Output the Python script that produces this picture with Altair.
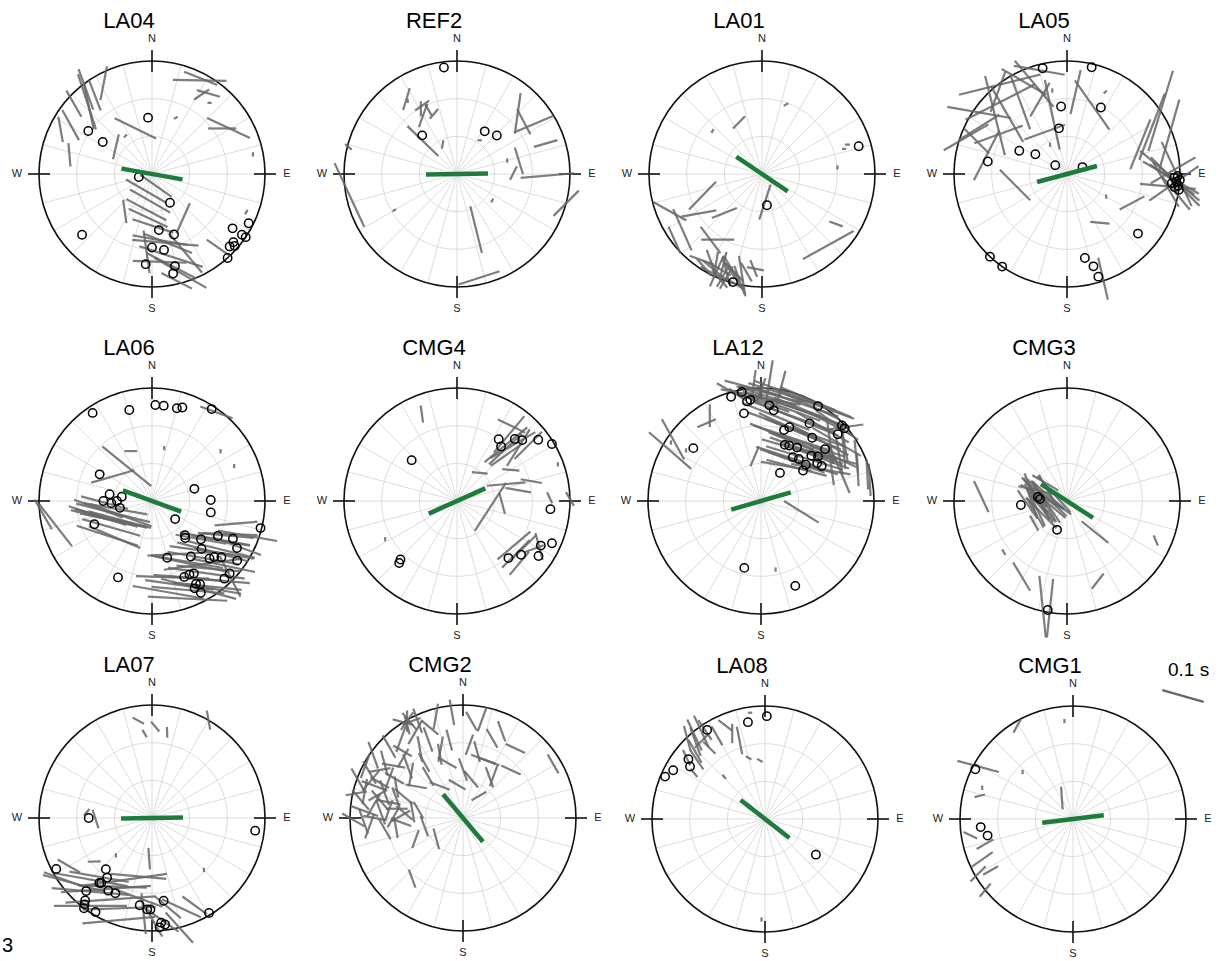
import math
import pandas as pd
import altair as alt

# ---------------- data: (back-azimuth deg, radial position as fraction of net radius, fast azimuth deg, delay s)
LA04_BARS = [(318,.86,162,.135),(332,.91,11,.08),(324,.86,159,.075),(301,.84,151,.08),(283,.75,175,.055),
             (317,.82,168,.11),(322,.95,160,.10),(312,.93,150,.07),(296,.90,170,.06),(307,.40,13,.06),
             (340,.43,116,.107),(27,.93,91,.125),(27,.95,112,.083),(35,.87,106,.056),(32,.83,56,.042),
             (59,.79,115,.11),(57,.74,90,.066),(199,.16,120,.108),(184,.24,120,.108),(189,.32,118,.105),
             (185,.39,115,.10),(179,.46,108,.10),(169,.62,95,.155),(167,.75,108,.155),(167,.63,112,.12),
             (168,.83,117,.13),(167,.97,117,.08),(175,.78,92,.125),(184,.69,172,.10),(216,.41,172,.055),
             (145,.48,24,.077),(138,.88,125,.067),(157,.76,140,.12),(164,.91,120,.14),(162,.11,125,.09),
             (173,.59,100,.13),(23,.54,60,.01),(79,.91,0,.01),(325,.41,45,.01),(39,.81,90,.01),(112,.90,30,.012)]
LA04_NULLS = [(356,.50),(304,.68),(303,.52),(257,.12),(148,.30),(173,.50),(160,.57),(180,.65),(171,.68),
              (184,.80),(166,.84),(168,.90),(229,.82),(124,.86),(117,.96),(124,.96),(124,1.0),(130,.94),
              (133,.94),(131,.97),(138,1.0)]

REF2_BARS = [(326,.80,17,.053),(333,.68,55,.04),(330,.60,20,.058),(336,.62,150,.03),(331,.66,0,.035),
             (339,.57,40,.03),(314,.42,134,.10),(334,.29,10,.02),(45,.76,8,.095),(57,.81,67,.10),
             (52,.75,152,.066),(71,.83,74,.057),(78,.56,163,.065),(91,.80,85,.125),(89,.50,27,.035),
             (105,1.0,45,.083),(259,.97,155,.163),(284,.99,130,.02),(161,.52,166,.112),(168,.94,72,.10),
             (240,.64,60,.01),(127,.39,30,.01),(75,.46,0,.01),(34,.36,90,.01),(326,.78,0,.01)]
REF2_NULLS = [(353,.95),(318,.46),(33,.45),(46,.49)]

LA01_BARS = [(336,.50,45,.04),(174,.25,18,.086),(124,.79,110,.033),(137,.86,61,.135),(250,.56,44,.09),
             (248,.88,119,.088),(235,.86,156,.105),(238,.66,80,.083),(224,.48,68,.063),(233,.97,156,.068),
             (214,.70,90,.077),(218,.74,143,.077),(206,.95,130,.072),(205,.95,24,.077),(196,.93,146,.084),
             (203,.88,14,.065),(191,.92,171,.095),(185,.84,158,.042),(184,.84,101,.04),(208,.98,117,.05),
             (196,.90,135,.06),(200,.92,165,.07),(194,1.0,120,.05),(210,.90,160,.06),(199,.97,30,.06),
             (202,1.0,140,.055),(198,.88,150,.07),(204,.92,120,.06),(192,.96,160,.07),(207,.90,10,.06),
             (212,.97,140,.05),(189,.88,150,.05),(201,.98,30,.05),(215,.93,110,.06),
             (19,.65,60,.012),(311,.58,30,.01),(85,.67,0,.01),(71,.80,90,.012),(73,.76,90,.01)]
LA01_NULLS = [(74,.89),(171,.28),(195,.99)]

LA05_BARS = [(323,.99,76,.195),(317,.87,63,.18),(309,.82,166,.19),(327,.76,160,.135),(298,.88,58,.11),
             (283,.73,27,.13),(346,.54,168,.165),(332,.42,70,.10),(6,.73,13,.105),(20,.65,145,.14),
             (258,.47,135,.10),(56,1.0,17,.195),(61,.86,21,.165),(69,.97,16,.17),(68,.70,22,.125),
             (91,.91,130,.18),(93,.93,124,.125),(95,.95,55,.14),(90,.97,155,.165),(97,.90,95,.13),
             (100,.98,140,.10),(161,.98,167,.10),(114,.63,62,.065),(146,.52,95,.045),(335,.90,120,.12),
             (305,.95,100,.15),(290,.85,135,.08),(340,.70,30,.09),(92,.92,120,.15),(94,.96,135,.16),
             (88,.94,60,.12),(96,.88,150,.12),(315,.75,150,.15),(300,.70,70,.12),(340,.85,140,.14),
             (320,.95,20,.10),(290,.95,60,.12),(345,.95,100,.12),
             (350,.75,0,.01),(25,.80,45,.01),(330,.30,0,.01),(120,.40,0,.01)]
LA05_NULLS = [(347,.96),(13,.97),(355,.60),(27,.66),(350,.41),(279,.71),(296,.47),(302,.33),(307,.13),
              (66,.15),(130,.82),(223,1.0),(168,.76),(164,.85),(163,.95),(215,1.0),(92,.95),(94,.97),
              (96,.99),(93,1.0),(97,.96),(95,.93),(91,.98),(98,1.0)]

LA06_BARS = [(253,.36,104,.177),(243,.38,102,.16),(237,.43,106,.14),(226,.46,113,.13),(268,.42,105,.113),
             (302,.41,74,.104),(324,.38,129,.147),(256,.88,142,.124),(263,.97,150,.08),(337,.48,90,.03),
             (248,.40,104,.17),(258,.33,100,.15),(232,.50,108,.15),(262,.48,110,.12),(245,.30,110,.15),
             (250,.45,104,.16),(240,.33,105,.15),(255,.50,108,.14),
             (105,.77,85,.10),(113,.75,92,.128),(121,.65,100,.165),(150,.54,87,.163),(141,.72,82,.185),
             (144,.86,95,.19),(170,.82,100,.167),(160,.92,93,.185),(126,.79,100,.14),(140,.78,95,.15),
             (134,.96,153,.107),(36,.97,110,.08),(130,.70,105,.17),(135,.62,98,.15),(148,.66,102,.18),
             (155,.75,95,.16),(118,.85,110,.12),(110,.90,100,.14),(145,.95,100,.13),(165,.70,92,.17),
             (128,.55,100,.12),(152,.88,105,.18),(138,.68,100,.17),(143,.80,98,.18),(147,.90,96,.16),
             (132,.85,102,.15),(125,.75,104,.16),(120,.70,100,.14),(158,.85,95,.17),(162,.78,98,.16),
             (150,.62,100,.17),(115,.72,95,.13),(13,.48,0,.01),(54,.75,0,.01),(67,.79,0,.01)]
LA06_NULLS = [(326,.94),(346,.83),(2,.85),(7,.85),(15,.85),(18,.87),(33,.97),(297,.52),(279,.38),(270,.43),
              (267,.36),(270,.31),(278,.27),(258,.29),(248,.55),(74,.39),(89,.52),(101,.53),(128,.26),
              (136,.42),(138,.44),(128,.55),(118,.66),(115,.79),(119,.86),(104,.99),(134,.61),(145,.60),
              (135,.72),(132,.74),(129,.79),(165,.52),(125,.92),(157,.73),(153,.73),(150,.74),(152,.83),
              (154,.86),(150,.85),(152,.92),(137,.94),(133,.94),(204,.74)]

CMG4_BARS = [(41,.66,51,.128),(43,.63,47,.105),(36,.82,116,.07),(45,.70,60,.12),(49,.72,32,.10),
             (52,.80,45,.09),(38,.75,40,.11),(47,.60,55,.09),(338,.83,172,.04),(39,.32,95,.037),
             (100,.30,33,.133),(71,.46,85,.09),(93,.40,165,.05),(80,.55,100,.06),(88,.82,155,.028),
             (89,1.0,150,.037),(128,.64,50,.10),(132,.70,45,.09),(135,.78,40,.07),(122,.80,70,.05),
             (119,.83,165,.065),(125,.72,45,.08),(60,.55,95,.04),(75,.68,100,.05),(242,.72,0,.01),(70,.95,0,.01)]
CMG4_NULLS = [(312,.54),(224,.72),(223,.75),(34,.66),(39,.62),(43,.75),(47,.79),(53,.90),(59,.98),
              (95,.83),(114,.92),(118,.84),(130,.74),(138,.68),(124,.87)]

LA12_BARS = [(356,1.0,105,.137),(3,.93,108,.147),(11,.97,107,.163),(21,.93,109,.195),(27,.88,110,.18),
             (29,1.0,113,.18),(10,.76,112,.167),(36,.73,109,.17),(37,.61,112,.17),(45,.54,107,.185),
             (47,.43,105,.145),(42,.92,118,.114),(49,1.0,82,.08),(4,1.06,9,.10),(356,1.0,8,.085),
             (50,.80,172,.10),(57,.87,175,.10),(72,.90,177,.077),(76,.97,177,.07),(65,.93,174,.077),
             (79,.98,177,.075),(68,.75,157,.12),(352,.40,23,.05),(299,.92,131,.13),(305,.95,151,.107),
             (325,.84,66,.047),(329,.88,0,.053),(105,.37,122,.095),(15,.85,110,.17),(30,.80,112,.16),
             (40,.65,108,.18),(20,.70,115,.15),(50,.62,110,.17),(33,.55,106,.16),(8,.90,100,.12),
             (25,.95,115,.17),(40,.85,120,.14),(55,.70,105,.15),(60,.80,170,.09),(45,.95,125,.12),
             (355,.90,115,.12),(18,.60,112,.16),(28,.45,108,.14),(62,.60,100,.14),(35,1.0,110,.14),
             (0,.98,20,.06),(10,1.02,15,.08),(345,1.0,120,.08),(12,.88,108,.19),(22,.80,110,.20),
             (32,.70,112,.19),(42,.60,110,.18),(48,.50,108,.17),(38,.45,110,.16),(25,.62,108,.18),
             (15,.70,110,.17),(5,.95,105,.15),(18,.98,110,.20),(52,.85,120,.13),(58,.75,115,.12),
             (44,.75,118,.15),(30,.90,112,.19),(350,.97,100,.10),(0,.88,110,.14),(36,.38,100,.12),
             (62,.70,172,.10),(55,.90,170,.09),(168,.62,0,.01),(303,.95,0,.01),(304,.80,0,.01)]
LA12_NULLS = [(344,.96),(350,.98),(354,.90),(352,.89),(349,.79),(5,.85),(8,.81),(31,.98),(32,.81),(21,.70),
              (18,.66),(39,.72),(23,.54),(27,.55),(34,.57),(36,.48),(42,.50),(48,.60),(52,.64),(51,.73),
              (51,.51),(56,.60),(60,.62),(54,.46),(34,.30),(308,.76),(47,.98),(49,.98),(49,.90),(194,.61),(158,.81)]

CMG3_BARS = [(279,.22,120,.116),(279,.18,133,.125),(264,.18,146,.11),(252,.23,140,.08),(298,.13,138,.114),
             (290,.26,103,.10),(236,.35,151,.04),(273,.76,155,.08),(138,.37,129,.08),(114,.86,158,.026),
             (231,.72,150,.015),(211,.78,149,.077),(159,.76,38,.045),(193,.96,174,.144),(189,.96,6,.137),
             (270,.25,150,.10),(285,.30,140,.09),(260,.28,155,.10),(275,.15,125,.12),(300,.20,150,.08),
             (255,.15,130,.09),(290,.35,160,.07),(245,.25,135,.10),(265,.35,145,.08),(310,.25,120,.07),
             (268,.20,150,.11),(280,.28,145,.10),(272,.32,160,.08),(288,.18,130,.10),(258,.22,140,.09),
             (250,.30,150,.08)]
CMG3_NULLS = [(278,.26),(274,.24),(265,.41),(199,.27),(190,.98)]

LA07_BARS = [(352,.87,118,.03),(2,.81,140,.03),(10,.77,178,.025),(355,.75,150,.02),(30,1.0,170,.045),
             (269,.50,162,.045),(275,.58,40,.02),(184,.36,176,.05),(225,.77,100,.175),(213,.75,86,.21),
             (207,.81,86,.21),(204,.60,82,.20),(198,.95,85,.17),(193,.53,95,.13),(189,.72,110,.115),
             (154,.86,126,.07),(166,1.0,138,.095),(185,.85,174,.095),(162,.84,115,.10),(230,.90,105,.15),
             (220,.85,95,.18),(215,.95,90,.17),(235,.95,110,.10),(210,.70,92,.16),(200,.85,88,.17),
             (222,.70,100,.14),(240,.85,120,.06),(175,.90,125,.10),(170,.80,130,.08),(178,.95,150,.06),
             (233,.64,88,.03),(135,.65,0,.01),(224,.46,0,.01)]
LA07_NULLS = [(270,.56),(97,.92),(242,.96),(222,.61),(217,.66),(218,.73),(219,.74),(211,.75),(206,.74),
              (222,.87),(219,.94),(218,.97),(217,1.0),(211,.97),(188,.78),(183,.81),(181,.81),(172,.74),
              (149,.98),(175,.93),(173,.95),(176,.97)]

CMG2_BARS = [(330,.99,0,.05),(330,.99,35,.05),(332,.97,70,.045),(328,1.0,105,.05),(331,.98,140,.05),
             (329,.96,165,.045),(345,.93,10,.06),(354,.94,170,.06),(5,.86,150,.05),(11,.89,20,.06),
             (24,.84,160,.05),(37,.77,115,.05),(59,.93,150,.05),(33,.43,160,.05),(19,.55,110,.06),
             (0,.43,160,.055),(344,.51,120,.05),(342,.64,10,.06),(336,.76,160,.06),(331,.87,30,.065),
             (328,.72,170,.06),(322,.89,20,.065),(314,.91,150,.06),(305,.97,160,.065),(298,.98,20,.06),
             (307,.77,100,.055),(313,.67,160,.06),(320,.48,150,.05),(324,.35,110,.05),(12,.35,140,.05),
             (36,.24,60,.04),(36,.46,20,.05),(290,.99,150,.06),(290,.84,110,.06),(288,.73,160,.06),
             (282,.67,100,.055),(278,.80,30,.06),(274,.87,110,.065),(274,.73,160,.06),(278,.59,90,.05),
             (290,.56,130,.055),(277,.45,170,.05),(266,.55,110,.05),(262,.70,150,.055),(265,.83,20,.06),
             (269,.97,120,.06),(298,.74,20,.055),(304,.50,100,.05),(258,.35,160,.05),(232,.30,165,.05),
             (246,.46,20,.045),(220,.70,160,.045),(285,.78,60,.05),(295,.65,170,.05),(280,.92,140,.06),
             (270,.62,30,.05),(300,.85,80,.05),(285,.90,10,.06),(275,.52,130,.05),(293,.80,120,.05),
             (310,.60,10,.055),(318,.80,120,.05),(350,.70,165,.05),(340,.85,130,.05),(5,.65,20,.05),
             (20,.75,150,.05),(350,.30,120,.045),(282,.75,140,.06),(276,.66,20,.05),(287,.62,160,.05),
             (292,.88,40,.06),(270,.78,100,.055),(268,.88,160,.06),(283,.97,80,.05),(296,.92,150,.06),
             (300,.70,120,.05),(272,.55,60,.05),(262,.60,170,.05),(280,.40,150,.045),(305,.85,165,.06),
             (315,.75,30,.05),(325,.60,150,.05),(335,.95,160,.06),(340,.60,170,.05),(12,.60,165,.05),
             (25,.55,110,.05),(45,.60,115,.05)]
CMG2_NULLS = []

LA08_BARS = [(320,.97,155,.08),(324,.96,155,.08),(326,.95,146,.055),(337,.90,127,.04),(339,.81,0,.045),
             (342,.73,169,.065),(321,.89,45,.045),(311,.80,146,.055),(303,.75,140,.025),(316,.52,140,.012),
             (345,.56,120,.015),(355,.52,120,.015),(318,.92,160,.07),(314,.86,150,.06),(322,.80,135,.04),
             (330,.85,150,.05),(308,.88,155,.04),(316,.99,165,.06),(182,.89,0,.01),(352,.95,90,.01)]
LA08_NULLS = [(1,.91),(350,.87),(327,.94),(308,.86),(305,.81),(298,.92),(293,.96),(125,.55)]

CMG1_BARS = [(299,.96,105,.10),(329,.96,29,.035),(332,.21,176,.053),(284,.85,76,.025),(254,.81,60,.045),
             (246,.88,55,.06),(240,.97,45,.05),(231,1.0,40,.04),(238,.86,60,.04),(261,.92,115,.035),
             (313,.61,0,.01),(289,.85,0,.01),(355,.87,0,.01)]
CMG1_NULLS = [(297,.97),(265,.82),(259,.77)]

STATIONS = ["LA04", "REF2", "LA01", "LA05", "LA06", "CMG4", "LA12", "CMG3", "LA07", "CMG2", "LA08", "CMG1"]
MEAN_FAST = [100, 89, 124, 75, 110, 66, 74, 123, 89, 140, 128, 83]
BARS = [LA04_BARS, REF2_BARS, LA01_BARS, LA05_BARS, LA06_BARS, CMG4_BARS,
        LA12_BARS, CMG3_BARS, LA07_BARS, CMG2_BARS, LA08_BARS, CMG1_BARS]
NULLS = [LA04_NULLS, REF2_NULLS, LA01_NULLS, LA05_NULLS, LA06_NULLS, CMG4_NULLS,
         LA12_NULLS, CMG3_NULLS, LA07_NULLS, CMG2_NULLS, LA08_NULLS, CMG1_NULLS]
SCALE_DELAY = 0.1

# ---------------- layout (pixels)
W, H = 1221, 961
CX = [152, 457, 762, 1067, 152, 457, 761, 1067, 152, 463, 765, 1073]
CY = [174, 174, 174, 174, 501, 501, 501, 501, 818, 818, 819, 819]
R = 113
PX_PER_S = 430
GREEN_LEN = 62

def pos(cx, cy, baz, r):
    a = math.radians(baz)
    return cx + R * r * math.sin(a), cy - R * r * math.cos(a)

def seg(px, py, phi, length):
    a = math.radians(phi)
    h = length / 2
    return px - h * math.sin(a), py + h * math.cos(a), px + h * math.sin(a), py - h * math.cos(a)

grid, rings, outer, ticks, labels, titles, bars, nulls, greens = [], [], [], [], [], [], [], [], []
for i, st in enumerate(STATIONS):
    cx, cy = CX[i], CY[i]
    for az in range(0, 360, 15):
        x2, y2 = pos(cx, cy, az, 1.0)
        grid.append(dict(x=cx, y=cy, x2=x2, y2=y2))
    for f in (1/3, 2/3):
        rings.append(dict(x=cx, y=cy, s=(2 * R * f) ** 2))
    outer.append(dict(x=cx, y=cy, s=(2 * R) ** 2))
    for az, lab in zip((0, 90, 180, 270), ("N", "E", "S", "W")):
        xa, ya = pos(cx, cy, az, (R - 11) / R)
        xb, yb = pos(cx, cy, az, (R + 11) / R)
        ticks.append(dict(x=xa, y=ya, x2=xb, y2=yb))
        lx, ly = pos(cx, cy, az, (R + 22) / R)
        labels.append(dict(x=lx, y=ly, t=lab))
    titles.append(dict(x=cx - 23, y=cy - 153, t=st))
    for baz, r, phi, dt in BARS[i]:
        px, py = pos(cx, cy, baz, r)
        x1, y1, x2, y2 = seg(px, py, phi, max(dt * PX_PER_S, 3))
        bars.append(dict(x=x1, y=y1, x2=x2, y2=y2))
    for baz, r in NULLS[i]:
        px, py = pos(cx, cy, baz, r)
        nulls.append(dict(x=px, y=py))
    x1, y1, x2, y2 = seg(cx, cy, MEAN_FAST[i], GREEN_LEN)
    greens.append(dict(x=x1, y=y1, x2=x2, y2=y2))

sx1, sy1, sx2, sy2 = seg(1183, 696, 106, SCALE_DELAY * PX_PER_S)
scale_bar = [dict(x=sx1, y=sy1, x2=sx2, y2=sy2)]

XS = alt.Scale(domain=[0, W], nice=False, zero=False)
YS = alt.Scale(domain=[0, H], nice=False, zero=False, reverse=True)
X = alt.X("x:Q", scale=XS, axis=None)
Y = alt.Y("y:Q", scale=YS, axis=None)
FONT = "Liberation Sans"

def rules(rows, **kw):
    return alt.Chart(pd.DataFrame(rows)).mark_rule(**kw).encode(x=X, y=Y, x2="x2:Q", y2="y2:Q")

grid_l = rules(grid, color="#d4d4d4", strokeWidth=0.8)
rings_l = alt.Chart(pd.DataFrame(rings)).mark_point(shape="circle", filled=False, color="#d4d4d4",
                                                    strokeWidth=0.8, opacity=1).encode(
    x=X, y=Y, size=alt.Size("s:Q", scale=None, legend=None))
outer_l = alt.Chart(pd.DataFrame(outer)).mark_point(shape="circle", filled=False, color="#111111",
                                                    strokeWidth=1.6, opacity=1).encode(
    x=X, y=Y, size=alt.Size("s:Q", scale=None, legend=None))
ticks_l = rules(ticks, color="#111111", strokeWidth=1.6)
labels_l = alt.Chart(pd.DataFrame(labels)).mark_text(font=FONT, fontSize=11, color="#222222",
                                                     align="center", baseline="middle").encode(x=X, y=Y, text="t:N")
titles_l = alt.Chart(pd.DataFrame(titles)).mark_text(font=FONT, fontSize=22, color="#000000",
                                                     align="center", baseline="middle").encode(x=X, y=Y, text="t:N")
bars_l = rules(bars, color="#666666", strokeWidth=2.2, opacity=0.85, strokeCap="butt")
nulls_l = alt.Chart(pd.DataFrame(nulls)).mark_point(shape="circle", filled=False, color="#000000",
                                                    strokeWidth=1.5, size=70, opacity=1).encode(x=X, y=Y)
greens_l = rules(greens, color="#1d7b3c", strokeWidth=4.5)
scale_l = rules(scale_bar, color="#666666", strokeWidth=2.2)
scale_t = alt.Chart(pd.DataFrame([dict(x=1168, y=670, t="0.1 s")])).mark_text(
    font=FONT, fontSize=19, color="#000000", align="left", baseline="middle").encode(x=X, y=Y, text="t:N")
corner_t = alt.Chart(pd.DataFrame([dict(x=2, y=946, t="3")])).mark_text(
    font=FONT, fontSize=20, color="#000000", align="left", baseline="middle").encode(x=X, y=Y, text="t:N")

chart = alt.layer(grid_l, rings_l, outer_l, ticks_l, labels_l, titles_l, bars_l, nulls_l, greens_l,
                  scale_l, scale_t, corner_t).properties(
    width=W, height=H, autosize=alt.AutoSizeParams(type="none"), padding=0, background="white"
).configure_view(strokeWidth=0)

chart.save("out.html", embed_options={"renderer": "svg", "actions": False})
